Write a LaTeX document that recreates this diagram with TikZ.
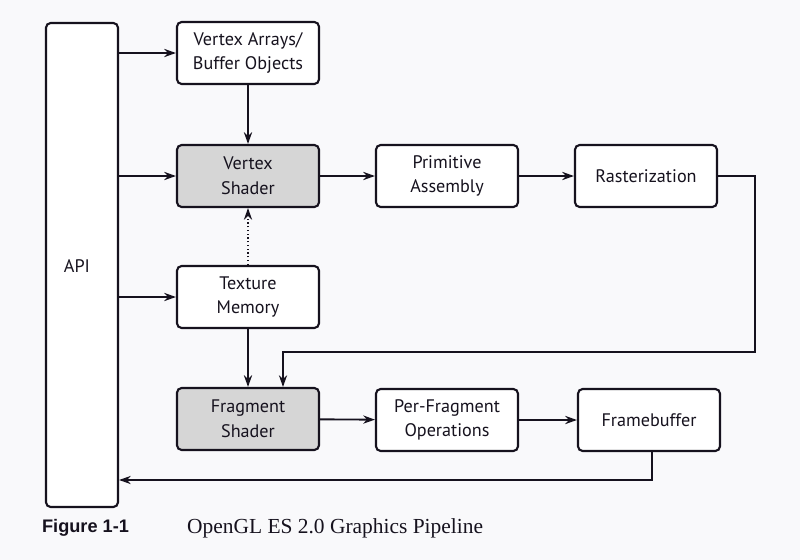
\documentclass[tikz,border=0pt]{standalone}
\usepackage{fontspec}
\setmainfont{PT Sans}
\newfontfamily\capsans{Liberation Sans}
\newfontfamily\capserif{Liberation Serif}
\usetikzlibrary{arrows.meta,positioning}
\definecolor{bgc}{RGB}{249,249,251}
\definecolor{shadefill}{RGB}{214,214,214}
\definecolor{inkc}{RGB}{22,18,30}
\tikzset{
  stage/.style={draw=inkc, line width=1.8pt, rounded corners=4pt, fill=white,
    minimum width=4.26cm, minimum height=1.86cm, align=center,
    font=\fontsize{15.5}{21}\selectfont, text=inkc, inner sep=1pt},
  shader/.style={stage, fill=shadefill},
  arr/.style={draw=inkc, line width=1.6pt, -{Stealth[length=10pt,width=7pt]}},
  thinarr/.style={draw=inkc, line width=1.1pt, -{Stealth[length=10pt,width=7pt]}},
  dotarr/.style={draw=inkc, line width=1.2pt, dotted, -{Stealth[length=10pt,width=7pt]}},
}
\begin{document}
\begin{tikzpicture}[x=0.03cm, y=-0.03cm]
\fill[bgc] (0,0) rectangle (800,560);
\useasboundingbox (0,0) rectangle (800,560);

\node[stage, minimum width=2.16cm, minimum height=14.52cm] (api) at (82,265) {};
\node[font=\fontsize{15.5}{18}\selectfont, text=inkc] (apil) at (77,266) {API};

\node[stage] (va) at (248,53) {Vertex Arrays/\\Buffer Objects};
\node[shader] (vs) at (248,176) {Vertex\\Shader};
\node[stage] (pa) at (447,176) {Primitive\\Assembly};
\node[stage] (ra) at (646,176) {Rasterization};
\node[stage] (tm) at (248,297) {Texture\\Memory};
\node[shader] (fs) at (248,419) {Fragment\\Shader};
\node[stage] (pf) at (447,420) {Per-Fragment\\Operations};
\node[stage] (fb) at (649,420) {Framebuffer};

\coordinate (loop) at (755,352);
\coordinate (ret) at (652,480);

\draw[arr] (api.east |- va) -- (va);
\draw[arr] (api.east |- vs) -- (vs);
\draw[arr] (api.east |- tm) -- (tm);
\draw[arr] (va) -- (vs);
\draw[dotarr] (tm) -- (vs);
\draw[arr] (tm) -- (fs);
\draw[arr] (vs) -- (pa);
\draw[arr, line width=2.4pt] (pa) -- (ra);
\draw[thinarr] (ra.east) -| (loop) -| ([xshift=1.05cm]fs.north);
\draw[arr] (fs) -- (pf);
\draw[arr] (pf) -- (fb);
\draw[thinarr] (fb.south -| ret) |- (api.east |- ret);

\node[anchor=west, font=\capsans\bfseries\fontsize{15.5}{18}\selectfont, text=inkc] (fig) at (38,528) {Figure 1-1};
\node[anchor=west, font=\capserif\fontsize{18.3}{21}\selectfont, text=inkc] (cap) at (183,528) {OpenGL ES 2.0 Graphics Pipeline};
\end{tikzpicture}
\end{document}
